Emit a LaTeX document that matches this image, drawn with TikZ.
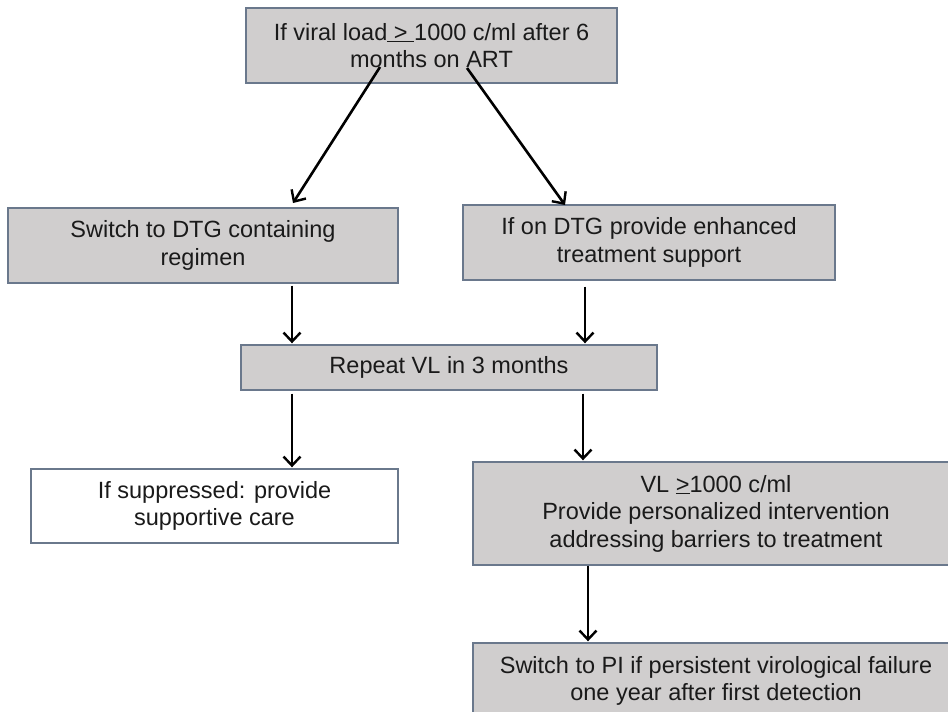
\documentclass[tikz,border=0pt]{standalone}
\usepackage{fontspec}
\setmainfont{Liberation Sans}
\usetikzlibrary{arrows.meta}
\definecolor{boxfill}{HTML}{D0CECE}
\definecolor{boxline}{HTML}{6A788C}
\definecolor{txt}{HTML}{1A1A1A}
\tikzset{
  box/.style={draw=boxline, line width=1.4pt, fill=boxfill, align=center,
    text=txt, inner sep=0pt, font=\fontsize{23.5}{27.5}\selectfont},
  whitebox/.style={box, fill=white},
  arr/.style={line width=2.6pt, -{Straight Barb[length=9pt,width=17pt,line width=2.4pt]}}
}
\begin{document}
\begin{tikzpicture}[x=1pt,y=1pt]
\clip (0,0) rectangle (948,-712);
\fill[white] (0,0) rectangle (948,-712);
\node[box, minimum width=371pt, minimum height=75pt] (b1) at (431.5,-45.5)
  {If viral load\underline{\ >\ }1000 c/ml after 6\\months on ART};
\node[box, minimum width=390pt, minimum height=75pt] (b2) at (203,-245.5)
  {Switch to DTG containing\\regimen};
\node[box, minimum width=372pt, minimum height=75pt] (b3) at (649,-242.5)
  {If on DTG provide enhanced\\treatment support};
\node[box, minimum width=416pt, minimum height=45pt] (b4) at (449,-367.5)
  {Repeat VL in 3 months};
\node[whitebox, minimum width=367pt, minimum height=74pt] (b5) at (214.5,-506)
  {If suppressed: provide\\supportive care};
\node[box, minimum width=486pt, minimum height=103pt] (b6) at (716,-513.5)
  {VL \underline{>}1000 c/ml\\Provide personalized intervention\\addressing barriers to treatment};
\node[box, minimum width=486pt, minimum height=76pt] (b7) at (716,-681)
  {Switch to PI if persistent virological failure\\one year after first detection};
% arrow anchor coordinates
\coordinate (s1) at (380,-67);
\coordinate (t1) at (293,-203);
\coordinate (s2) at (467,-68);
\coordinate (t2) at (565,-205);
\coordinate (xl) at (292,0);
\coordinate (xr) at (585,0);
\coordinate (xr2) at (583,0);
\coordinate (xb) at (588,0);
\draw[arr] (s1) -- (t1);
\draw[arr] (s2) -- (t2);
\draw[arr] ([yshift=-2pt]b2.south -| xl) -- ([yshift=1pt]b4.north -| xl);
\draw[arr] ([yshift=-6pt]b3.south -| xr) -- ([yshift=1pt]b4.north -| xr);
\draw[arr] ([yshift=-3pt]b4.south -| xl) -- ([yshift=1pt]b5.north -| xl);
\draw[arr] ([yshift=-3pt]b4.south -| xr2) -- ([yshift=1pt]b6.north -| xr2);
\draw[arr] (b6.south -| xb) -- ([yshift=1pt]b7.north -| xb);
\end{tikzpicture}
\end{document}
